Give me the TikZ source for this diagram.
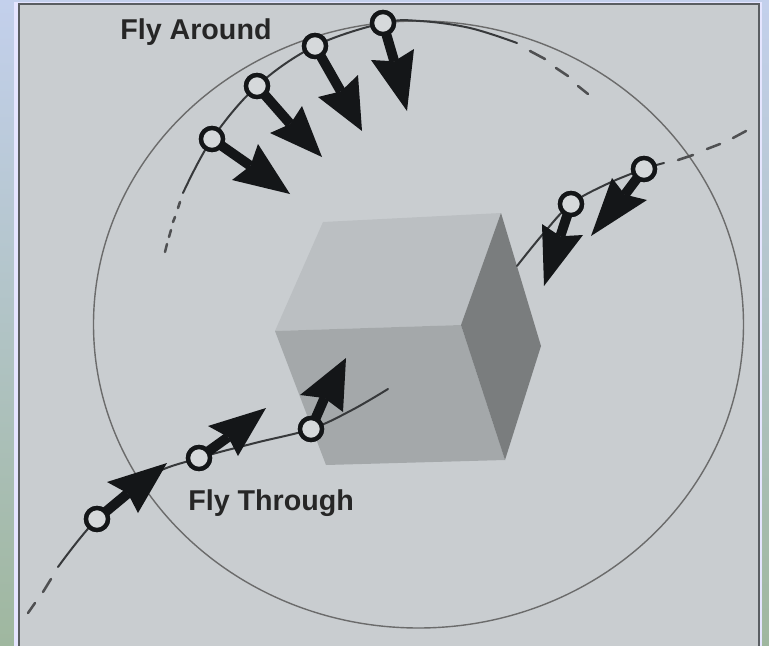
\documentclass[tikz,border=0pt]{standalone}
\usepackage{fontspec}
\setmainfont{Liberation Sans}
\usetikzlibrary{calc}
\definecolor{stripTop}{HTML}{C3D0EC}
\definecolor{stripMid}{HTML}{B6CCD0}
\definecolor{stripBot}{HTML}{9FB79F}
\definecolor{panel}{HTML}{C9CDD0}
\definecolor{frameline}{HTML}{5A5E62}
\definecolor{ink}{HTML}{141618}
\definecolor{ringfill}{HTML}{D6D9DB}
\definecolor{cubetop}{HTML}{BBBFC2}
\definecolor{cubefront}{HTML}{A4A8AA}
\definecolor{cubeside}{HTML}{7A7D7E}
\tikzset{
  flightpath/.style={draw=ink!85!white,line width=1.5pt,line cap=round},
  flightdash/.style={draw=ink!75!white,line width=1.9pt,line cap=round},
  sphereline/.style={draw=black!58,line width=1.05pt},
  camera/.style={circle,draw=ink,fill=ringfill,line width=3.3pt,minimum size=16.5pt,inner sep=0pt},
  shaftline/.style={draw=ink,line width=7.4pt},
  headshape/.style={fill=ink},
  caption/.style={font=\fontsize{21.5}{24}\selectfont\bfseries,text=black!85,inner sep=0pt}
}
% #1 camera node, #2 barb, #3 barb, #4 tip
\newcommand{\viewarrow}[4]{%
  \coordinate (m) at ($#2!0.5!#3$);
  \coordinate (n) at ($(m)!0.12!#4$);
  \draw[shaftline] (#1.center) -- (n);
  \fill[headshape] #2 -- (n) -- #3 -- #4 -- cycle;
}
\begin{document}
\begin{tikzpicture}[x=0.75pt,y=-0.75pt]
\useasboundingbox (0,0) rectangle (769,646);
\shade[top color=stripTop,middle color=stripMid,bottom color=stripBot,draw=none] (0,0) rectangle (769,646);
\fill[white!90!blue] (14,2) rectangle (762,646);
\fill[panel] (18,3) rectangle (760,646);
\draw[frameline,line width=1.6pt] (19,646) -- (19,4) -- (759,4) -- (759,646);
% sphere
\draw[sphereline] (418.5,324.5) ellipse [x radius=325,y radius=303.5];
% cube
\fill[cubetop] (323,222) -- (501,213) -- (461,325) -- (275,331) -- cycle;
\fill[cubefront] (275,331) -- (461,325) -- (505,460) -- (326,465) -- cycle;
\fill[cubeside] (501,213) -- (541,346) -- (505,460) -- (461,325) -- cycle;
% fly around path
\draw[flightpath] plot[smooth,tension=0.6] coordinates {(183,193) (212,139) (257,86) (315,46) (383,23) (420,21) (470,28) (517,43)};
\draw[flightdash] (530,51) -- (545,59) (556,68) -- (568,76) (578,86) -- (588,94);
\draw[flightdash] (180,202) -- (178,208) (175,217) -- (173,222) (171,230) -- (169,237) (167,244) -- (165,252);
% fly through path
\draw[flightpath] plot[smooth,tension=0.6] coordinates {(58,567) (97,519) (150,476) (199,458) (255,443) (311,429) (352,410) (388,389)};
\draw[flightdash] (28,613) -- (35,603) (43,592) -- (51,579);
% right path
\draw[flightpath] plot[smooth,tension=0.6] coordinates {(517,266) (543,234) (571,204) (607,184) (644,169) (664,163)};
\draw[flightdash] (678,160) -- (693,155) (707,149) -- (720,144) (733,138) -- (746,131);
% cameras: fly around
\node[camera] (a1) at (212,139) {};
\node[camera] (a2) at (257,86) {};
\node[camera] (a3) at (315,46) {};
\node[camera] (a4) at (383,23) {};
\viewarrow{a1}{(258,144)}{(232,180)}{(290,194)}
\viewarrow{a2}{(302,106)}{(270,133)}{(322,157)}
\viewarrow{a3}{(358,75)}{(318,97)}{(362,131)}
\viewarrow{a4}{(414,49)}{(371,60)}{(407,111)}
% cameras: fly through
\node[camera] (t1) at (97,519) {};
\node[camera] (t2) at (199,458) {};
\node[camera] (t3) at (311,429) {};
\viewarrow{t1}{(107,482)}{(138,513)}{(167,463)}
\viewarrow{t2}{(208,426)}{(238,456)}{(266,408)}
\viewarrow{t3}{(300,395)}{(343,412)}{(346,358)}
% cameras: right
\node[camera] (r1) at (644,169) {};
\node[camera] (r2) at (571,204) {};
\viewarrow{r1}{(612,178)}{(647,200)}{(591,236)}
\viewarrow{r2}{(542,224)}{(583,235)}{(544,286)}
% redraw rings above shafts
\foreach \n in {a1,a2,a3,a4,t1,t2,t3,r1,r2}{\node[camera] at (\n.center) {};}
% labels
\node[caption,anchor=west] (flyaround) at (120,32.5) {Fly Around};
\node[caption,anchor=west] (flythrough) at (188,503.5) {Fly Through};
\end{tikzpicture}
\end{document}
